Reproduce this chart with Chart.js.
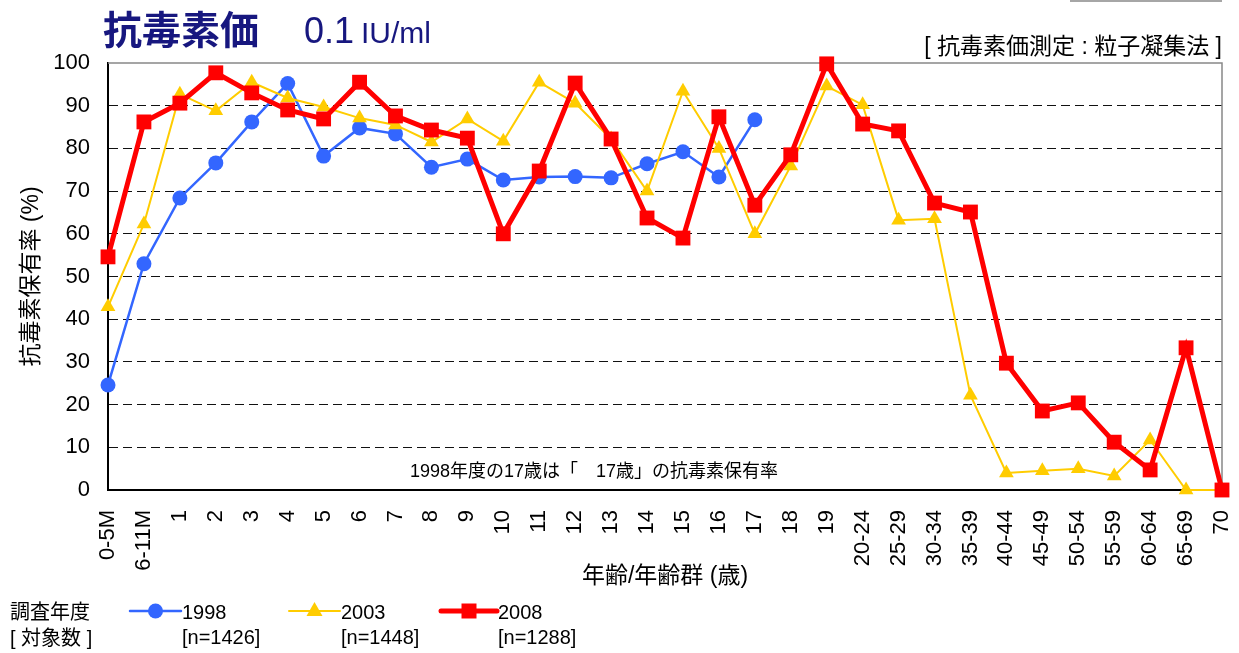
<!DOCTYPE html>
<html>
<head>
<meta charset="utf-8">
<script src="https://cdn.jsdelivr.net/npm/chart.js@4.4.0/dist/chart.umd.min.js"></script>
<style>
html,body{margin:0;padding:0;background:#fff;}
#wrap{width:1239px;height:653px;position:relative;}
</style>
</head>
<body>
<div id="wrap"><canvas id="c" width="1239" height="653"></canvas></div>
<script>
const categories = ['0-5M','6-11M','1','2','3','4','5','6','7','8','9','10','11','12','13','14','15','16','17','18','19','20-24','25-29','30-34','35-39','40-44','45-49','50-54','55-59','60-64','65-69','70'];
const yTicks = [0,10,20,30,40,50,60,70,80,90,100];
const s1998 = [24.6,53,68.4,76.6,86.2,95.2,78.2,84.8,83.4,75.6,77.5,72.6,73.3,73.4,73.1,76.4,79.2,73.3,86.7,null,null,null,null,null,null,null,null,null,null,null,null,null];
const s2003 = [42.9,62.3,92.7,88.8,95.5,91.8,89.7,87.1,85.5,81.5,86.9,81.7,95.5,90.6,82.2,70,93.4,80,60,75.9,94.6,90.2,63.2,63.5,22.2,4,4.5,5,3.3,11.7,0,0];
const s2008 = [54.6,86.2,90.6,97.7,93,89,86.9,95.5,87.6,84.3,82.4,60,74.7,95.3,82.2,63.7,59,87.4,66.7,78.5,99.8,85.7,84.1,67.2,65.1,29.7,18.5,20.4,11.2,4.7,33.3,0];
const seriesNames = ['1998','2003','2008'];
const seriesN = ['[n=1426]','[n=1448]','[n=1288]'];

const FONT = '"Liberation Sans", Arial, "Noto Sans CJK JP", sans-serif';
const JFONT = '"Liberation Sans", "Noto Sans CJK JP", sans-serif';
const BLUE = '#3366ff', YELLOW = '#ffcc00', RED = '#ff0000', NAVY = '#17177f';

const extras = {
  id: 'extras',
  beforeDatasetsDraw(chart) {
    const {ctx, chartArea: a} = chart;
    ctx.save();
    ctx.strokeStyle = '#888';
    ctx.lineWidth = 1.5;
    ctx.beginPath();
    ctx.moveTo(a.left, a.top); ctx.lineTo(a.right, a.top); ctx.lineTo(a.right, a.bottom);
    ctx.stroke();
    ctx.restore();
  },
  afterDraw(chart) {
    const {ctx} = chart;
    ctx.save();
    // title
    ctx.fillStyle = NAVY;
    ctx.textBaseline = 'alphabetic';
    ctx.textAlign = 'left';
    ctx.font = 'bold 39px "Noto Sans CJK JP", sans-serif';
    ctx.fillText('抗毒素価', 103, 44);
    ctx.font = '36px ' + FONT;
    ctx.fillText('0.1', 304, 43);
    ctx.font = '30px ' + FONT;
    ctx.fillText('IU/ml', 361, 43);
    // top right
    ctx.fillStyle = '#000';
    ctx.textAlign = 'right';
    ctx.font = '23px ' + JFONT;
    ctx.fillText('[ 抗毒素価測定 : 粒子凝集法 ]', 1222, 54);
    ctx.strokeStyle = '#888';
    ctx.lineWidth = 1.5;
    ctx.beginPath(); ctx.moveTo(1070, 1); ctx.lineTo(1222, 1); ctx.stroke();
    // annotation
    ctx.textAlign = 'center';
    ctx.font = '18px ' + JFONT;
    ctx.fillText('1998年度の17歳は「　17歳」の抗毒素保有率', 594, 477);
    // legend
    ctx.textAlign = 'left';
    ctx.font = '20px ' + JFONT;
    ctx.fillText('調査年度', 10, 619);
    ctx.fillText('[ 対象数 ]', 10, 645);
    const items = [
      {x0: 130, x1: 181, color: BLUE, w: 2.5, shape: 'circle'},
      {x0: 289, x1: 340, color: YELLOW, w: 2, shape: 'triangle'},
      {x0: 441, x1: 497, color: RED, w: 5, shape: 'rect'}
    ];
    items.forEach((it, i) => {
      const y = 611;
      ctx.strokeStyle = it.color; ctx.lineWidth = it.w; ctx.lineCap = 'round';
      ctx.beginPath(); ctx.moveTo(it.x0, y); ctx.lineTo(it.x1, y); ctx.stroke();
      const cx = (it.x0 + it.x1) / 2;
      ctx.fillStyle = it.color;
      ctx.beginPath();
      if (it.shape === 'circle') { ctx.arc(cx, y, 7.5, 0, Math.PI * 2); }
      else if (it.shape === 'triangle') { ctx.moveTo(cx, y - 9); ctx.lineTo(cx + 8, y + 5); ctx.lineTo(cx - 8, y + 5); ctx.closePath(); }
      else { ctx.rect(cx - 7.5, y - 7.5, 15, 15); }
      ctx.fill();
      ctx.fillStyle = '#000';
      ctx.fillText(seriesNames[i], it.x1 + 1, 619);
      ctx.fillText(seriesN[i], it.x1 + 1, 644);
    });
    ctx.restore();
  }
};

new Chart(document.getElementById('c'), {
  type: 'line',
  data: {
    labels: categories,
    datasets: [
      {label: seriesNames[2], data: s2008, borderColor: RED, backgroundColor: RED, borderWidth: 5, pointStyle: 'rect', pointRadius: 10.5, pointHoverRadius: 10.5, pointBorderWidth: 0, order: 0, clip: false},
      {label: seriesNames[1], data: s2003, borderColor: YELLOW, backgroundColor: YELLOW, borderWidth: 2, pointStyle: 'triangle', pointRadius: 8.5, pointHoverRadius: 8.5, pointBorderWidth: 0, order: 1, clip: false},
      {label: seriesNames[0], data: s1998, borderColor: BLUE, backgroundColor: BLUE, borderWidth: 2.5, pointStyle: 'circle', pointRadius: 7.5, pointHoverRadius: 7.5, pointBorderWidth: 0, order: 2, clip: false}
    ]
  },
  options: {
    responsive: false,
    animation: false,
    events: [],
    layout: {padding: {left: 0, top: 63, right: 17, bottom: 60}},
    plugins: {legend: {display: false}, tooltip: {enabled: false}, title: {display: false}},
    elements: {line: {tension: 0}},
    scales: {
      x: {
        type: 'category',
        offset: false,
        grid: {drawOnChartArea: false, drawTicks: false},
        border: {display: true, color: '#000', width: 2},
        ticks: {autoSkip: false, maxRotation: 90, minRotation: 90, padding: 20, color: '#000', font: {family: FONT, size: 22}},
        title: {display: true, text: '年齢/年齢群 (歳)', color: '#000', font: {family: JFONT, size: 23}, padding: {top: 4, bottom: 3}},
        afterFit(s) { s.height = 103; s.paddingLeft = 0; s.paddingRight = 0; }
      },
      y: {
        min: 0, max: 100,
        afterBuildTicks(s) { s.ticks = yTicks.map(v => ({value: v})); },
        grid: {drawTicks: false, color: c => (c.tick && (c.tick.value === 0 || c.tick.value === 100)) ? 'rgba(0,0,0,0)' : '#111', lineWidth: 1},
        border: {display: true, color: '#000', width: 2, dash: [9, 5]},
        ticks: {padding: 18, color: '#000', font: {family: FONT, size: 22}},
        title: {display: true, text: '抗毒素保有率 (%)', color: '#000', font: {family: JFONT, size: 23}, padding: {top: 18, bottom: 0}},
        afterFit(s) { s.width = 108; s.paddingTop = 0; s.paddingBottom = 0; }
      }
    }
  },
  plugins: [extras]
});
</script>
</body>
</html>
